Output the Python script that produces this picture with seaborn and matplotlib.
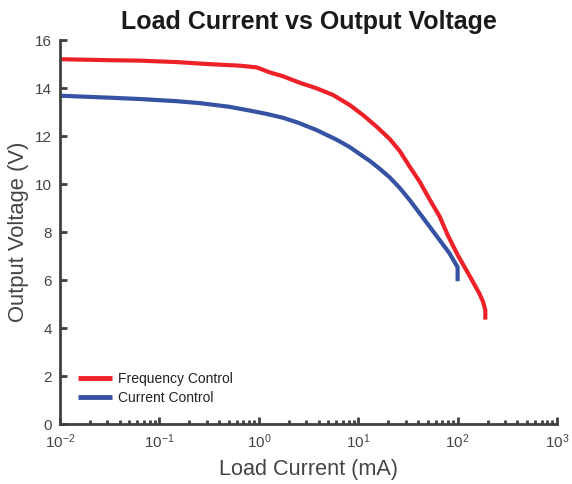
import matplotlib
matplotlib.use("Agg")
import matplotlib.pyplot as plt
import matplotlib.ticker as mticker
import seaborn as sns
import pandas as pd
import numpy as np

# Data
freq_x = [0.01, 0.03, 0.064, 0.15, 0.3, 0.644, 0.95, 1.29, 1.75, 2.58, 3.8, 5.58, 8.22, 11.2, 15.2,
          20.7, 26.1, 33, 41.5, 52.4, 65.9, 80, 100, 135, 165, 180, 190, 190]
freq_y = [15.2, 15.16, 15.14, 15.08, 15.0, 14.93, 14.86, 14.65, 14.49, 14.22, 13.99, 13.71, 13.29, 12.87, 12.4,
          11.88, 11.38, 10.72, 10.1, 9.35, 8.65, 7.85, 7.05, 6.1, 5.45, 5.1, 4.75, 4.35]

curr_x = [0.01, 0.03, 0.064, 0.15, 0.255, 0.5, 0.81, 1.2, 1.75, 2.5, 3.8, 6.04, 8.2, 10.35, 13.1,
          16.4, 20.7, 26.1, 33, 52.4, 83, 100, 100]
curr_y = [13.68, 13.6, 13.54, 13.45, 13.37, 13.22, 13.06, 12.92, 12.76, 12.55, 12.25, 11.85, 11.54, 11.25, 10.96,
          10.64, 10.28, 9.84, 9.33, 8.22, 7.11, 6.53, 5.95]

series_names = ["Frequency Control", "Current Control"]
series_colors = ["#EE2129", "#3652A3"]

df = pd.concat([
    pd.DataFrame({"x": freq_x, "y": freq_y, "s": series_names[0]}),
    pd.DataFrame({"x": curr_x, "y": curr_y, "s": series_names[1]}),
], ignore_index=True)

sns.set_style("white")
plt.rcParams["font.family"] = ["Liberation Sans", "DejaVu Sans"]
plt.rcParams["mathtext.fontset"] = "custom"
plt.rcParams["mathtext.rm"] = "Liberation Sans"
plt.rcParams["mathtext.it"] = "Liberation Sans:italic"
plt.rcParams["mathtext.bf"] = "Liberation Sans:bold"
plt.rcParams["mathtext.sf"] = "Liberation Sans"
plt.rcParams["axes.unicode_minus"] = False

fig = plt.figure(figsize=(5.72, 4.84), dpi=100)
ax = fig.add_axes([60/572, 60/484, 497/572, 384/484])

sns.lineplot(data=df, x="x", y="y", hue="s", palette=dict(zip(series_names, series_colors)),
             sort=False, estimator=None, linewidth=3.0, ax=ax)
for ln in ax.get_lines():
    ln.set_solid_joinstyle("round")
    ln.set_solid_capstyle("butt")

ax.set_xscale("log")
ax.set_xlim(1e-2, 1e3)
ax.set_ylim(0, 16)
ax.set_yticks(np.arange(0, 17, 2))
ax.xaxis.set_major_locator(mticker.LogLocator(base=10, numticks=10))
ax.xaxis.set_minor_locator(mticker.LogLocator(base=10, subs=np.arange(2, 10), numticks=20))
ax.xaxis.set_minor_formatter(mticker.NullFormatter())

spine_c = "#404040"
for s in ["top", "right"]:
    ax.spines[s].set_visible(False)
for s in ["left", "bottom"]:
    ax.spines[s].set_color(spine_c)
    ax.spines[s].set_linewidth(2.0)

ax.tick_params(axis="both", which="major", direction="in", length=5, width=2.0, color=spine_c,
               labelsize=11, labelcolor="#444444", pad=6, bottom=True, left=True)
ax.tick_params(axis="x", which="minor", direction="in", length=3, width=2.0, color=spine_c, bottom=True)

ax.set_xlabel("Load Current (mA)", fontsize=15.6, color="#444444", labelpad=6)
ax.set_ylabel("Output Voltage (V)", fontsize=15.8, color="#444444", labelpad=4)
ax.set_title("Load Current vs Output Voltage", fontsize=18, fontweight="bold", color="#1a1a1a", pad=8)

leg = ax.legend(loc="lower left", bbox_to_anchor=(0.012, 0.017), frameon=False, fontsize=10,
                handlelength=2.4, handletextpad=0.45, labelspacing=0.37, title=None)
for line in leg.get_lines():
    line.set_linewidth(3.5)
for t in leg.get_texts():
    t.set_color("#222222")

fig.savefig("out.png", dpi=100)
